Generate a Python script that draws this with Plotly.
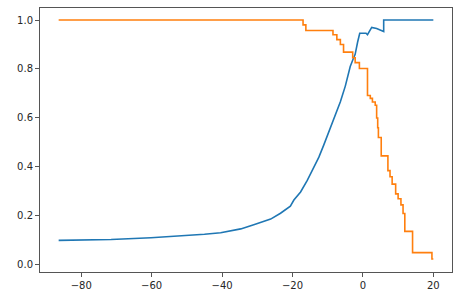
import plotly.graph_objects as go

# Blue curve (linear)
blue_x = [-86.4, -80, -71.5, -60.2, -50.8, -45, -40.4, -37.5, -34.7, -31, -28.5, -26.2,
          -23.4, -20.6, -19.6, -17.7, -15.8, -14, -12.5, -11.1, -9.7, -8.3, -6.4, -5.0,
          -3.6, -2.8, -2.2, -1.5, -0.9, 0.9, 1.3, 2.5, 3.9, 5.9, 5.9, 20]
blue_y = [0.100, 0.101, 0.104, 0.111, 0.118, 0.125, 0.131, 0.138, 0.147, 0.164, 0.176, 0.187,
          0.211, 0.240, 0.265, 0.298, 0.345, 0.400, 0.440, 0.490, 0.540, 0.590, 0.666, 0.730,
          0.810, 0.840, 0.860, 0.910, 0.946, 0.946, 0.940, 0.970, 0.965, 0.953, 1.0, 1.0]

# Orange curve (step, value held until next x)
orange_x = [-86.4, -17.0, -16.2, -8.5, -7.4, -6.4, -5.5, -2.9, -2.2, -1.0, 1.3, 2.1, 2.7,
            3.5, 3.9, 4.2, 4.4, 5.2, 7.1, 7.7, 8.3, 9.3, 10.0, 10.8, 11.4, 11.9, 14.1,
            19.6, 20.0]
orange_y = [1.0, 0.98, 0.957, 0.94, 0.92, 0.90, 0.869, 0.846, 0.826, 0.802, 0.692, 0.68,
            0.665, 0.652, 0.60, 0.56, 0.52, 0.445, 0.385, 0.36, 0.33, 0.29, 0.27, 0.245,
            0.21, 0.137, 0.05, 0.024, 0.024]

x_ticks = [-80, -60, -40, -20, 0, 20]
y_ticks = [0.0, 0.2, 0.4, 0.6, 0.8, 1.0]

fig = go.Figure()
fig.add_trace(go.Scatter(x=blue_x, y=blue_y, mode="lines",
                         line=dict(color="#1f77b4", width=1.6, shape="linear")))
fig.add_trace(go.Scatter(x=orange_x, y=orange_y, mode="lines",
                         line=dict(color="#ff7f0e", width=1.6, shape="hv")))

axis_common = dict(showgrid=False, zeroline=False, showline=True, mirror=True,
                   linecolor="#555555", linewidth=1, ticks="outside", ticklen=4,
                   tickcolor="#555555", tickwidth=1,
                   tickfont=dict(family="DejaVu Sans", size=10, color="#262626"))

fig.update_layout(
    width=461, height=298,
    margin=dict(l=40, r=9, t=7, b=22),
    paper_bgcolor="white", plot_bgcolor="white",
    showlegend=False,
    xaxis=dict(range=[-91.7, 25.3], tickvals=x_ticks, **axis_common),
    yaxis=dict(range=[-0.029, 1.049], tickvals=y_ticks, tickformat=".1f", **axis_common),
)

fig.write_html("out.html")
